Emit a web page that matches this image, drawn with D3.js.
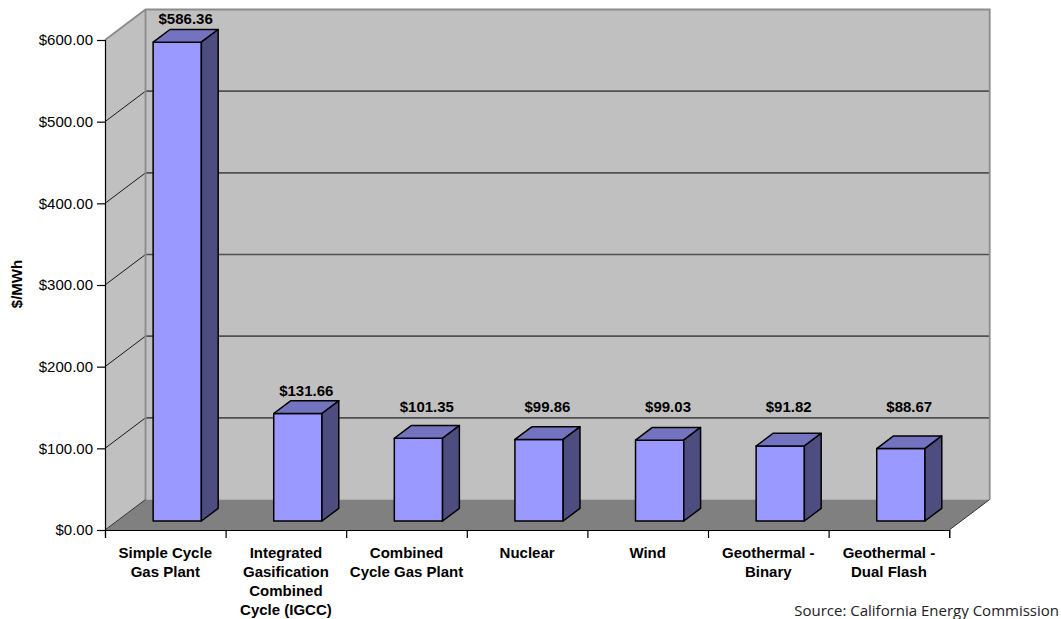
<!DOCTYPE html>
<html>
<head>
<meta charset="utf-8">
<script src="https://cdn.jsdelivr.net/npm/d3@7/dist/d3.min.js"></script>
<style>
  html, body { margin: 0; padding: 0; background: #fff; }
  svg { display: block; }
  text { font-family: "Liberation Sans", Arial, sans-serif; }
  text.note { font-family: "Open Sans", sans-serif; }
</style>
</head>
<body>
<svg id="chart" width="1061" height="619"></svg>
<script>
// Levelized cost of generation by technology ($/MWh)
const categories = [
  "Simple Cycle\nGas Plant",
  "Integrated\nGasification\nCombined\nCycle (IGCC)",
  "Combined\nCycle Gas Plant",
  "Nuclear",
  "Wind",
  "Geothermal -\nBinary",
  "Geothermal -\nDual Flash"
];
const costs = [586.36, 131.66, 101.35, 99.86, 99.03, 91.82, 88.67];
const yTicks = [0, 100, 200, 300, 400, 500, 600];
const yTitle = "$/MWh";
const sourceNote = "Source: California Energy Commission";

const svg = d3.select("#chart");
const money = d => "$" + d3.format(",.2f")(d);

// Front plane scales
const x = d3.scaleBand().domain(categories).range([105, 949.2]).padding(0);
const y = d3.scaleLinear().domain([0, 600]).range([530, 40]);

// Oblique depth of the plot box
const DX = 40.5, DY = -30.5;
// Bars sit between these fractions of the depth
const F0 = 0.295, F1 = 0.71;
const barW = x.bandwidth() * 0.4;

const x0 = x.range()[0], x1 = x.range()[1];
const yTop = y(600), yBot = y(0);

// Back wall
svg.append("rect")
  .attr("x", x0 + DX).attr("y", yTop + DY)
  .attr("width", x1 - x0).attr("height", yBot - yTop)
  .attr("fill", "#c0c0c0");

// Left wall
svg.append("polygon")
  .attr("points", [[x0, yTop], [x0 + DX, yTop + DY], [x0 + DX, yBot + DY], [x0, yBot]].join(" "))
  .attr("fill", "#c0c0c0");

// Gridlines on the back wall and the left wall
const inner = yTicks.filter(t => t > 0 && t < 600);
svg.append("g").selectAll("line").data(inner).join("line")
  .attr("x1", x0 + DX).attr("x2", x1 + DX)
  .attr("y1", t => y(t) + DY).attr("y2", t => y(t) + DY)
  .attr("stroke", "#505050").attr("stroke-width", 1.6);
svg.append("g").selectAll("line").data(inner).join("line")
  .attr("x1", x0).attr("x2", x0 + DX)
  .attr("y1", t => y(t)).attr("y2", t => y(t) + DY)
  .attr("stroke", "#1a1a1a").attr("stroke-width", 1);

// Wall borders
svg.append("path")
  .attr("d", `M${x0},${yTop} L${x0 + DX},${yTop + DY} L${x1 + DX},${yTop + DY} L${x1 + DX},${yBot + DY}`
    + ` M${x0 + DX},${yTop + DY} L${x0 + DX},${yBot + DY}`)
  .attr("fill", "none").attr("stroke", "#8c8c8c").attr("stroke-width", 1.8);

// Floor
svg.append("polygon")
  .attr("points", [[x0, yBot], [x0 + DX, yBot + DY], [x1 + DX, yBot + DY], [x1, yBot]].join(" "))
  .attr("fill", "#808080");
svg.append("path")
  .attr("d", `M${x0},${yBot} L${x0 + DX},${yBot + DY} M${x1},${yBot} L${x1 + DX},${yBot + DY}`)
  .attr("stroke", "#333").attr("stroke-width", 1);

// Bars
const bars = categories.map((c, i) => {
  const cx = x(c) + x.bandwidth() / 2 + DX * F0;
  const ddx = DX * (F1 - F0), ddy = DY * (F1 - F0);
  const bx0 = cx - barW / 2, bx1 = cx + barW / 2;
  const yb = y(0) + DY * F0, yt = y(costs[i]) + DY * F0;
  return { c, v: costs[i], cx, ddx, ddy, bx0, bx1, yb, yt };
});

const gBars = svg.append("g")
  .attr("stroke", "#000").attr("stroke-width", 1.5).attr("stroke-linejoin", "round");
bars.forEach(b => {
  gBars.append("rect")
    .attr("x", b.bx0).attr("y", b.yt)
    .attr("width", b.bx1 - b.bx0).attr("height", b.yb - b.yt)
    .attr("fill", "#9999ff");
  gBars.append("polygon")
    .attr("points", [[b.bx0, b.yt], [b.bx1, b.yt], [b.bx1 + b.ddx, b.yt + b.ddy], [b.bx0 + b.ddx, b.yt + b.ddy]].join(" "))
    .attr("fill", "#7373bf");
  gBars.append("polygon")
    .attr("points", [[b.bx1, b.yt], [b.bx1 + b.ddx, b.yt + b.ddy], [b.bx1 + b.ddx, b.yb + b.ddy], [b.bx1, b.yb]].join(" "))
    .attr("fill", "#4d4d80");
});

// Value labels: above each bar, kept clear of the first gridline
const labelFloor = y(yTicks[1]) + DY - 6;
svg.append("g").selectAll("text").data(bars).join("text")
  .attr("x", b => b.cx + b.ddx / 2)
  .attr("y", b => Math.min(b.yt + b.ddy - 5, labelFloor))
  .attr("text-anchor", "middle")
  .attr("font-size", 15).attr("font-weight", "bold")
  .attr("fill", "#000")
  .text(b => money(b.v));

// Y axis
const yAxis = svg.append("g")
  .attr("transform", `translate(${x0},0)`)
  .call(d3.axisLeft(y).tickValues(yTicks).tickSize(8).tickPadding(4).tickFormat(money));
yAxis.select(".domain").attr("stroke", "#000").attr("stroke-width", 1.2);
yAxis.selectAll(".tick line").attr("stroke", "#000").attr("stroke-width", 1.2);
yAxis.selectAll(".tick text")
  .attr("font-size", 15).attr("fill", "#000");

// X axis: ticks at category boundaries, labels centred in each band
const bounds = d3.scaleLinear().domain([0, categories.length]).range(x.range());
const xAxis = svg.append("g")
  .attr("transform", `translate(0,${yBot})`)
  .call(d3.axisBottom(bounds).tickValues(d3.range(categories.length + 1)).tickSize(8).tickFormat(""));
xAxis.select(".domain").attr("stroke", "#000").attr("stroke-width", 1.2);
xAxis.selectAll(".tick line").attr("stroke", "#000").attr("stroke-width", 1.2);

const catLabels = svg.append("g").selectAll("text").data(categories).join("text")
  .attr("x", c => x(c) + x.bandwidth() / 2)
  .attr("y", 557.5)
  .attr("text-anchor", "middle")
  .attr("font-size", 15).attr("font-weight", "bold")
  .attr("fill", "#000");
catLabels.each(function (c) {
  const t = d3.select(this);
  c.split("\n").forEach((line, i) => {
    t.append("tspan")
      .attr("x", x(c) + x.bandwidth() / 2)
      .attr("dy", i === 0 ? 0 : 19.3)
      .text(line);
  });
});

// Y axis title
svg.append("text")
  .attr("transform", "translate(22,284) rotate(-90)")
  .attr("text-anchor", "middle")
  .attr("font-size", 15).attr("font-weight", "bold")
  .attr("fill", "#000")
  .text(yTitle);

// Source note
svg.append("text")
  .attr("class", "note")
  .attr("x", 1059).attr("y", 616)
  .attr("text-anchor", "end")
  .attr("font-size", 15)
  .attr("fill", "#222")
  .text(sourceNote);
</script>
</body>
</html>
